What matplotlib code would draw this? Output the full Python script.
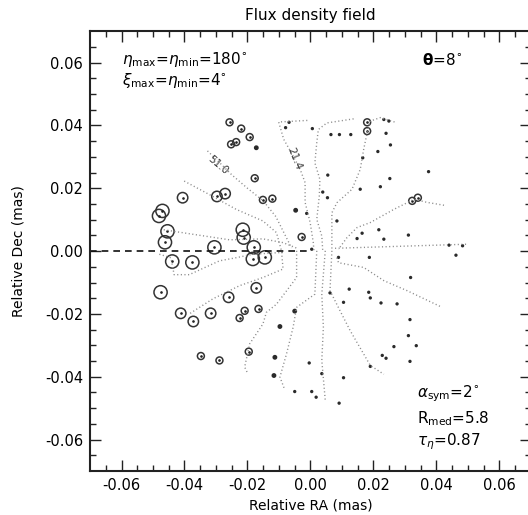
import numpy as np
import matplotlib
matplotlib.use('Agg')
import matplotlib.pyplot as plt

plt.rcParams['font.family'] = ['DejaVu Sans']
plt.rcParams['mathtext.fontset'] = 'dejavusans'

# component positions (mas) and relative flux class
comp_x = [-0.0470, -0.0481, -0.0454, -0.0462, -0.0305, -0.0215, -0.0212, -0.0180,
          -0.0439, -0.0375, -0.0183, -0.0145, -0.0476,
          -0.0406, -0.0297, -0.0271, -0.0172, -0.0260, -0.0412, -0.0372, -0.0317,
          -0.0257, -0.0220, -0.0193, -0.0252, -0.0236, -0.0177, -0.0151, -0.0121,
          -0.0028, -0.0209, -0.0225, -0.0165, -0.0348, -0.0289, -0.0196,
          0.0323, 0.0341, 0.0180, 0.0180,
          -0.0172, -0.0047, -0.0097, -0.0113, -0.0116, -0.0050,
          -0.0068, -0.0079, 0.0006, 0.0055, 0.0039, 0.0054, 0.0084, 0.0065, 0.0092,
          0.0128, 0.0233, 0.0249, 0.0240, 0.0254, 0.0214, 0.0166, 0.0375, 0.0252,
          0.0222, 0.0158, 0.0148, 0.0164, 0.0217, 0.0233, 0.0311, 0.0440, 0.0483,
          0.0462, -0.0012, 0.0004, -0.0004, 0.0036, -0.0050, 0.0004, 0.0018, 0.0091,
          0.0105, 0.0062, 0.0105, 0.0123, 0.0187, 0.0089, 0.0185, 0.0190, 0.0224,
          0.0275, 0.0318, 0.0316, 0.0311, 0.0336, 0.0265, 0.0228, 0.0240, 0.0316,
          0.0190]
comp_y = [0.0128, 0.0112, 0.0063, 0.0028, 0.0012, 0.0068, 0.0043, 0.0012,
          -0.0033, -0.0036, -0.0025, -0.0020, -0.0131,
          0.0170, 0.0174, 0.0183, -0.0117, -0.0147, -0.0198, -0.0224, -0.0198,
          0.0410, 0.0390, 0.0363, 0.0340, 0.0347, 0.0232, 0.0163, 0.0167,
          0.0045, -0.0190, -0.0213, -0.0184, -0.0334, -0.0348, -0.0320,
          0.0160, 0.0170, 0.0410, 0.0382,
          0.0329, 0.0130, -0.0240, -0.0338, -0.0396, -0.0191,
          0.0410, 0.0393, 0.0390, 0.0242, 0.0188, 0.0170, 0.0096, 0.0371, 0.0371,
          0.0371, 0.0419, 0.0414, 0.0375, 0.0338, 0.0317, 0.0297, 0.0253, 0.0231,
          0.0205, 0.0197, 0.0040, 0.0057, 0.0068, 0.0038, 0.0051, 0.0019, 0.0017,
          -0.0013, 0.0120, 0.0006, -0.0356, -0.0390, -0.0447, -0.0447, -0.0465, -0.0484,
          -0.0403, -0.0133, -0.0163, -0.0121, -0.0020, -0.0020, -0.0131, -0.0149, -0.0165,
          -0.0168, -0.0084, -0.0218, -0.0269, -0.0301, -0.0304, -0.0332, -0.0341, -0.0351,
          -0.0367]
comp_flux = [4]*13 + [3]*8 + [2]*19 + [1.5]*6 + [1]*55

# dotted field lines (mas)
line_51_x = [-0.0327, -0.0290, -0.0250, -0.0200, -0.0150, -0.0110, -0.0085, -0.0060]
line_51_y = [0.0319, 0.0283, 0.0243, 0.0200, 0.0160, 0.0110, 0.0060, 0.0010]
line_21_x = [-0.0010, -0.0101, -0.0085, -0.0064, -0.0033, -0.0017, -0.0017, -0.0001, 0.0009, 0.0011]
line_21_y = [0.0416, 0.0411, 0.0356, 0.0319, 0.0261, 0.0218, 0.0155, 0.0091, 0.0027, 0.0000]
line_b_x = [-0.0401, -0.0321, -0.0236, -0.0151, -0.0108, -0.0092, -0.0087, -0.0151, -0.0225, -0.0310, -0.0385]
line_b_y = [0.0223, 0.0180, 0.0133, 0.0096, 0.0059, 0.0001, -0.0057, -0.0084, -0.0110, -0.0152, -0.0200]
line_d_x = [0.0137, 0.0052, 0.0025, 0.0020, 0.0014, 0.0030, 0.0028, 0.0020, 0.0036, 0.0039]
line_d_y = [0.0421, 0.0408, 0.0387, 0.0345, 0.0281, 0.0228, 0.0175, 0.0101, 0.0048, 0.0001]
line_e_x = [0.0267, 0.0222, 0.0190, 0.0180, 0.0169, 0.0158, 0.0132, 0.0084, 0.0068, 0.0068, 0.0068]
line_e_y = [0.0411, 0.0425, 0.0414, 0.0377, 0.0324, 0.0260, 0.0197, 0.0154, 0.0122, 0.0048, 0.0001]
line_f_x = [0.0424, 0.0371, 0.0329, 0.0265, 0.0190, 0.0148, 0.0116, 0.0089]
line_f_y = [0.0146, 0.0155, 0.0165, 0.0133, 0.0091, 0.0075, 0.0043, 0.0006]
line_g_x = [0.0078, 0.0499]
line_g_y = [0.0009, 0.0022]
line_h_x = [-0.0466, -0.0376, -0.0257, -0.0151, -0.0087, -0.0040]
line_h_y = [0.0068, 0.0054, 0.0036, 0.0039, 0.0027, 0.0008]
line_i_x = [-0.0480, -0.0443, -0.0433, -0.0385, -0.0289, -0.0236, -0.0183, -0.0087]
line_i_y = [-0.0010, -0.0021, -0.0075, -0.0075, -0.0031, -0.0021, -0.0010, -0.0004]
line_k_x = [-0.0044, -0.0044, -0.0108, -0.0140, -0.0151, -0.0193, -0.0209, -0.0199]
line_k_y = [0.0001, -0.0084, -0.0169, -0.0195, -0.0232, -0.0295, -0.0369, -0.0390]
line_l_x = [0.0020, 0.0014, -0.0044, -0.0055, -0.0076, -0.0097, -0.0084]
line_l_y = [0.0001, -0.0137, -0.0179, -0.0242, -0.0327, -0.0401, -0.0435]
line_m_x = [0.0047, 0.0036, 0.0041, 0.0036, 0.0047]
line_m_y = [0.0001, -0.0137, -0.0242, -0.0348, -0.0475]
line_n_x = [0.0068, 0.0062, 0.0094, 0.0126, 0.0190, 0.0233]
line_n_y = [0.0001, -0.0126, -0.0190, -0.0253, -0.0364, -0.0392]
line_o_x = [0.0084, 0.0089, 0.0169, 0.0233, 0.0307, 0.0418]
line_o_y = [-0.0021, -0.0037, -0.0052, -0.0094, -0.0126, -0.0179]

field_lines = [(line_51_x, line_51_y), (line_21_x, line_21_y), (line_b_x, line_b_y),
               (line_d_x, line_d_y), (line_e_x, line_e_y), (line_f_x, line_f_y),
               (line_g_x, line_g_y), (line_h_x, line_h_y), (line_i_x, line_i_y),
               (line_k_x, line_k_y), (line_l_x, line_l_y), (line_m_x, line_m_y),
               (line_n_x, line_n_y), (line_o_x, line_o_y)]

jet_x = [-0.07, 0.0]
jet_y = [0.0, 0.0]


def flux_to_size(f):
	# marker diameter in points
	d = {4: 9.5, 3: 7.5, 2: 5.0, 1.5: 3.5, 1: 2.4}[f]
	return d*d


fig = plt.figure(figsize=(5.28, 5.15), dpi=100)
ax = fig.add_axes([0.1705, 0.0854, 0.835, 0.854])

for lx, ly in field_lines:
	ax.plot(lx, ly, linestyle=(0, (0.8, 1.8)), color='#8c8c8c', lw=1.0)

ax.plot(jet_x, jet_y, '--', color='#111111', lw=1.2, dashes=(4, 3))

cx = np.array(comp_x)
cy = np.array(comp_y)
cf = np.array(comp_flux)
sizes = np.array([flux_to_size(f) for f in comp_flux])
ring = cf >= 2
ax.scatter(cx[ring], cy[ring], s=sizes[ring], facecolors='none', edgecolors='#333333', linewidths=1.1)
ax.scatter(cx[ring], cy[ring], s=0.8, color='#222222')
ax.scatter(cx[~ring], cy[~ring], s=sizes[~ring], color='#2a2a2a', linewidths=0)

ax.text(-0.0295, 0.0273, '51.0', fontsize=7.5, rotation=-40, ha='center', va='center', color='#333333')
ax.text(-0.0050, 0.0294, '21.4', fontsize=7.5, rotation=-68, ha='center', va='center', color='#333333')

ax.set_xlim(-0.07, 0.07)
ax.set_ylim(-0.07, 0.07)
ax.set_xticks(np.arange(-0.06, 0.061, 0.02))
ax.set_yticks(np.arange(-0.06, 0.061, 0.02))
ax.set_xticks(np.arange(-0.065, 0.07, 0.005), minor=True)
ax.set_yticks(np.arange(-0.065, 0.07, 0.005), minor=True)
ax.xaxis.set_major_formatter(matplotlib.ticker.FormatStrFormatter('%.2f'))
ax.yaxis.set_major_formatter(matplotlib.ticker.FormatStrFormatter('%.2f'))
ax.tick_params(which='both', direction='in', top=True, right=True, labelsize=10.5, width=1.0, color='#222222')
ax.tick_params(which='major', length=8, pad=5)
ax.tick_params(which='minor', length=4)
for sp in ax.spines.values():
	sp.set_linewidth(1.5)
	sp.set_color('#222222')

ax.set_title('Flux density field', fontsize=11, pad=8)
ax.set_xlabel('Relative RA (mas)', fontsize=10)
ax.set_ylabel('Relative Dec (mas)', fontsize=10, labelpad=14)

ax.text(0.072, 0.935, r'$\eta_{\rm max}$=$\eta_{\rm min}$=180$^{\circ}$', transform=ax.transAxes, fontsize=11, va='center')
ax.text(0.072, 0.888, r'$\xi_{\rm max}$=$\eta_{\rm min}$=4$^{\circ}$', transform=ax.transAxes, fontsize=11, va='center')
ax.text(0.753, 0.935, r'$\mathbf{\theta}$=8$^{\circ}$', transform=ax.transAxes, fontsize=11, va='center')
ax.text(0.741, 0.175, r'$\alpha_{\rm sym}$=2$^{\circ}$', transform=ax.transAxes, fontsize=11, va='center')
ax.text(0.741, 0.12, r'R$_{\rm med}$=5.8', transform=ax.transAxes, fontsize=11, va='center')
ax.text(0.741, 0.066, r'$\tau_{\eta}$=0.87', transform=ax.transAxes, fontsize=11, va='center')

fig.savefig('out.png', dpi=100)
